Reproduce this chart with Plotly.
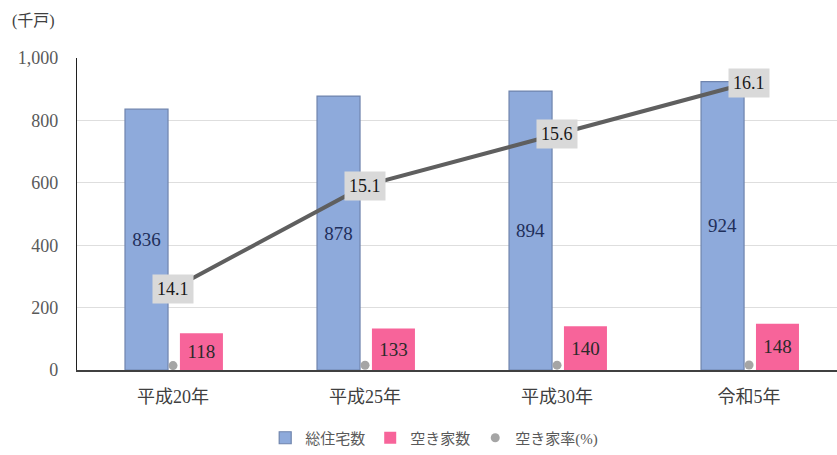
import plotly.graph_objects as go

categories = ["平成20年", "平成25年", "平成30年", "令和5年"]
total_houses = [836, 878, 894, 924]
vacant_houses = [118, 133, 140, 148]
vacancy_rate = [14.1, 15.1, 15.6, 16.1]

FONT = "Liberation Serif, Noto Sans CJK JP, serif"
x = list(range(len(categories)))

fig = go.Figure()
fig.add_trace(go.Bar(
    x=x, y=total_houses, name="総住宅数",
    marker=dict(color="#8eaadb", line=dict(color="#6f84ad", width=1.2)),
    width=0.224, offset=-0.25,
    text=[str(v) for v in total_houses], textposition="inside",
    insidetextanchor="middle", textangle=0,
    textfont=dict(family=FONT, size=19, color="#1f2f5a"),
))
fig.add_trace(go.Bar(
    x=x, y=vacant_houses, name="空き家数",
    marker=dict(color="#f7649a", line=dict(width=0)),
    width=0.224, offset=0.036,
    text=[str(v) for v in vacant_houses], textposition="inside",
    insidetextanchor="middle", textangle=0,
    textfont=dict(family=FONT, size=19, color="#2a2a2a"),
))
# rate plotted on primary axis (appears as dots at bottom, legend entry)
fig.add_trace(go.Scatter(
    x=x, y=vacancy_rate, name="空き家率(%)", mode="markers",
    marker=dict(color="#a5a5a5", size=9),
))
# rate line on hidden secondary axis
fig.add_trace(go.Scatter(
    x=x, y=vacancy_rate, yaxis="y2", mode="lines", showlegend=False,
    line=dict(color="#5f5f5f", width=4), hoverinfo="skip",
))
for xi, r in zip(x, vacancy_rate):
    fig.add_annotation(
        x=xi, y=r, xref="x", yref="y2", text=f"{r:.1f}", showarrow=False,
        bgcolor="#d9d9d9", borderpad=4,
        font=dict(family=FONT, size=18, color="#1a1a1a"),
    )

fig.add_annotation(
    x=-0.088, y=1.12, xref="paper", yref="paper", text="(千戸)",
    showarrow=False, xanchor="left", yanchor="middle",
    font=dict(family=FONT, size=16, color="#404040"),
)

fig.update_layout(
    width=837, height=455,
    margin=dict(l=77, r=0, t=58, b=85),
    paper_bgcolor="white", plot_bgcolor="white",
    barmode="overlay",
    font=dict(family=FONT, size=15, color="#595959"),
    xaxis=dict(
        range=[-0.5, 3.458], tickmode="array", tickvals=x, ticktext=categories,
        showgrid=False, zeroline=False, showline=True, linecolor="#404040",
        linewidth=1.5, ticks="outside", ticklen=10, tickcolor="rgba(0,0,0,0)",
        tickfont=dict(family=FONT, size=18, color="#404040"),
    ),
    yaxis=dict(
        range=[0, 1000], tickvals=[0, 200, 400, 600, 800, 1000],
        tickformat=",", showgrid=True, gridcolor="#dedede", gridwidth=1,
        zeroline=False, showline=True, linecolor="#202020", linewidth=1.2,
        ticks="outside", ticklen=14, tickcolor="rgba(0,0,0,0)",
        tickfont=dict(family=FONT, size=18, color="#595959"),
    ),
    yaxis2=dict(
        overlaying="y", side="right", range=[13.31, 16.34], visible=False,
        showgrid=False,
    ),
    legend=dict(
        orientation="h", x=0.47, xanchor="center", y=-0.218, yanchor="middle",
        font=dict(family=FONT, size=15, color="#595959"),
        itemwidth=30, tracegroupgap=0,
    ),
    showlegend=True,
)
fig.write_html("out.html")
